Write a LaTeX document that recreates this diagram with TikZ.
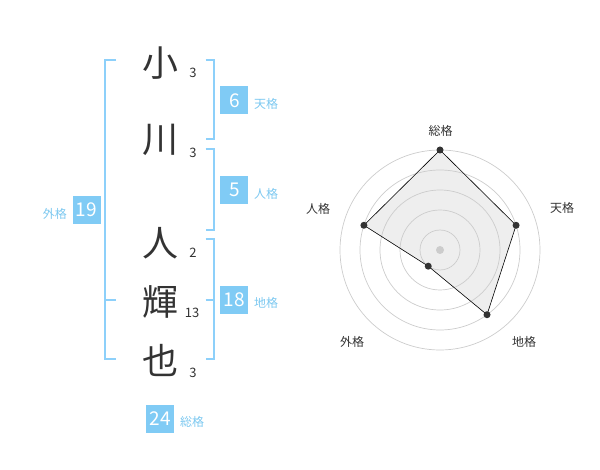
\documentclass[tikz,border=0pt]{standalone}
\usepackage{fontspec}
\newfontfamily\jp{Noto Sans CJK JP}
\definecolor{ink}{HTML}{333333}
\definecolor{boxblue}{HTML}{80CBF5}
\definecolor{brblue}{HTML}{8DD0FA}
\definecolor{lblblue}{HTML}{7CC8F0}
\definecolor{ringgrey}{HTML}{CCCCCC}
\definecolor{areagrey}{HTML}{EEEEEE}
\tikzset{
  kanji/.style={font=\jp\fontsize{36}{36}\selectfont, text=ink, inner sep=0pt},
  strokes/.style={font=\jp\fontsize{13}{13}\selectfont, text=ink, inner sep=0pt},
  numbox/.style={fill=boxblue, text=white, minimum width=28pt, minimum height=28pt, inner sep=0pt, font=\jp\fontsize{19}{19}\selectfont},
  lbl/.style={text=lblblue, font=\jp\fontsize{12}{12}\selectfont, inner sep=0pt},
  bracket/.style={draw=brblue, line width=2pt},
  ring/.style={draw=ringgrey, line width=0.7pt},
  axlbl/.style={text=ink, font=\jp\fontsize{12}{12}\selectfont, inner sep=0pt},
  dot/.style={circle, fill=ink, minimum size=7pt, inner sep=0pt},
}
\begin{document}
\begin{tikzpicture}[x=1pt,y=-1pt]
\useasboundingbox (0,0) rectangle (600,470);
% characters
\node[kanji] (c1) at (160,63) {小};
\node[kanji] (c2) at (160,140) {川};
\node[kanji] (c3) at (160,243) {人};
\node[kanji] (c4) at (160,302) {輝};
\node[kanji] (c5) at (160,360) {也};
\node[strokes] (s1) at (193,73) {3};
\node[strokes] (s2) at (193,153) {3};
\node[strokes] (s3) at (193,253) {2};
\node[strokes] (s4) at (192,313) {13};
\node[strokes] (s5) at (193,373) {3};
% brackets
\draw[bracket] (116,60) -- (105,60) -- (105,359) -- (116,359);
\draw[bracket] (105,300) -- (116,300);
\draw[bracket] (205.5,60) -- (214.3,60) -- (214.3,139.3) -- (205.5,139.3);
\draw[bracket] (205.5,149.3) -- (214.3,149.3) -- (214.3,230) -- (205.5,230);
\draw[bracket] (205.5,239.3) -- (214.3,239.3) -- (214.3,359.3) -- (205.5,359.3);
\draw[bracket] (205.5,300) -- (214.3,300);
% boxes and labels
\node[numbox] (b1) at (86.5,210) {19};
\node[lbl, anchor=east] (l1) at (67,214) {外格};
\node[numbox] (b2) at (234.3,100.5) {6};
\node[lbl, anchor=west] (l2) at (254,104) {天格};
\node[numbox] (b3) at (234.3,190) {5};
\node[lbl, anchor=west] (l3) at (254,194) {人格};
\node[numbox] (b4) at (234.3,300) {18};
\node[lbl, anchor=west] (l4) at (254,303) {地格};
\node[numbox] (b5) at (160,419) {24};
\node[lbl, anchor=west] (l5) at (180,422) {総格};
% radar
\coordinate (O) at (440,250);
\path (O) ++(0,-100) coordinate (pA);
\path (O) ++(76.08,-24.72) coordinate (pB);
\path (O) ++(47.02,64.72) coordinate (pC);
\path (O) ++(-11.76,16.18) coordinate (pD);
\path (O) ++(-76.08,-24.72) coordinate (pE);
\fill[areagrey] (pA) -- (pB) -- (pC) -- (pD) -- (pE) -- cycle;
\foreach \r in {20,40,60,80,100} \draw[ring] (O) circle[radius=\r];
\draw[black, line width=0.6pt] (pA) -- (pB) -- (pC) -- (pD) -- (pE) -- cycle;
\node[circle, fill=ringgrey, minimum size=8pt, inner sep=0pt] (ctr) at (O) {};
\node[dot] (dA) at (pA) {};
\node[dot] (dB) at (pB) {};
\node[dot] (dC) at (pC) {};
\node[dot] (dD) at (pD) {};
\node[dot] (dE) at (pE) {};
\node[axlbl] (aA) at (440.5,130.5) {総格};
\node[axlbl] (aB) at (562,208) {天格};
\node[axlbl] (aC) at (524,342) {地格};
\node[axlbl] (aD) at (352,342) {外格};
\node[axlbl] (aE) at (318,209) {人格};
\end{tikzpicture}
\end{document}
